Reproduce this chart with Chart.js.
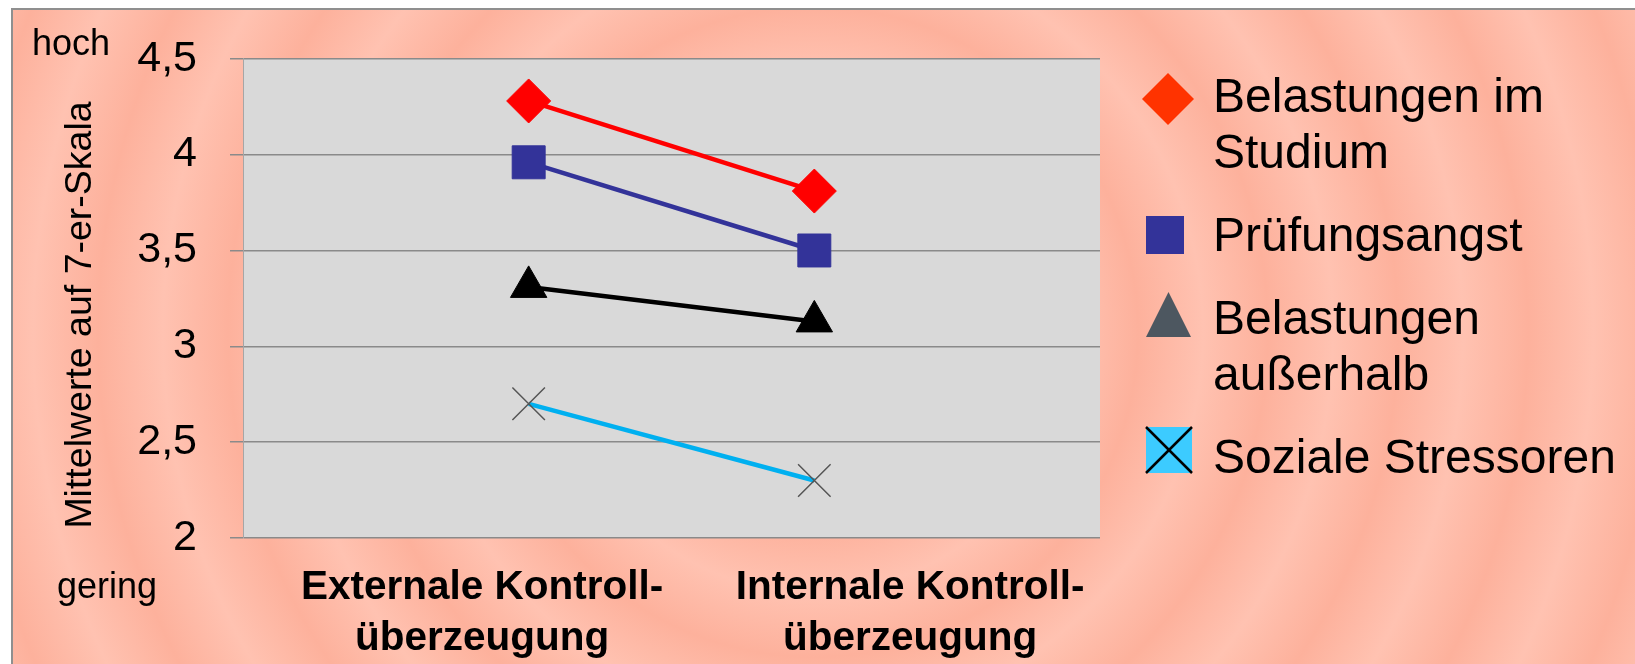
<!DOCTYPE html>
<html lang="de">
<head>
<meta charset="utf-8">
<script src="https://cdn.jsdelivr.net/npm/chart.js@4.4.1/dist/chart.umd.min.js"></script>
<style>
  html, body { margin: 0; padding: 0; }
  body { width: 1635px; height: 664px; background: #fff; position: relative; overflow: hidden;
         font-family: 'Liberation Sans', Arial, sans-serif; }
  #frame { position: absolute; left: 11px; top: 8px; width: 1700px; height: 700px;
           border-top: 2px solid #8f8f8f; border-left: 2px solid #8f8f8f;
           background: repeating-radial-gradient(circle at 800px 322px, #ffc2b1 0px, #fdb19c 65px, #ffc2b1 130px); }
  #chart { position: absolute; left: 0; top: 0; }
  #legend { position: absolute; left: 1146px; top: 68px; }
  .item { display: flex; margin-bottom: 27px; }
  .sym { width: 67px; height: 56px; flex: none; overflow: visible; }
  .txt { width: 430px; font-size: 48px; line-height: 56px; color: #000; }
</style>
</head>
<body>
<div id="frame"></div>
<canvas id="chart" width="1635" height="664"></canvas>
<div id="legend"></div>
<script>
const xLabels = [['Externale Kontroll-', 'überzeugung'], ['Internale Kontroll-', 'überzeugung']];
const seriesNames = ['Belastungen im Studium', 'Prüfungsangst', 'Belastungen außerhalb', 'Soziale Stressoren'];
const studium = [4.28, 3.81];
const pruefung = [3.96, 3.50];
const ausserhalb = [3.31, 3.13];
const sozial = [2.70, 2.30];
const yTicks = [2, 2.5, 3, 3.5, 4, 4.5];
const yTitle = 'Mittelwerte auf 7-er-Skala';

const family = "'Liberation Sans', Arial, sans-serif";

// points sit at x = 1 and 2 on a 0..3 axis, category texts are set a bit outward
const toPoints = vals => vals.map((v, i) => ({ x: i + 1, y: v }));
const labelAt = [0.837, 2.335];

// grey plot area behind the lines
const plotBg = {
    id: 'plotBg',
    beforeDraw(chart) {
        const { ctx, chartArea: a } = chart;
        ctx.save();
        ctx.fillStyle = '#d9d9d9';
        ctx.fillRect(a.left, a.top, a.right - a.left, a.bottom - a.top);
        ctx.restore();
    }
};

// axis title plus the hoch / gering hints
const sideText = {
    id: 'sideText',
    afterDraw(chart) {
        const ctx = chart.ctx;
        ctx.save();
        ctx.fillStyle = '#000';
        ctx.font = '36px ' + family;
        ctx.textAlign = 'left';
        ctx.textBaseline = 'alphabetic';
        ctx.fillText('hoch', 32, 55);
        ctx.fillText('gering', 57, 598);
        ctx.font = '37.5px ' + family;
        ctx.translate(91, 315);
        ctx.rotate(-Math.PI / 2);
        ctx.textAlign = 'center';
        ctx.fillText(yTitle, 0, 0);
        ctx.restore();
    }
};

const chart = new Chart('chart', {
    type: 'line',
    data: {
        datasets: [{
            label: seriesNames[0],
            data: toPoints(studium),
            borderColor: '#ff0000',
            borderWidth: 4.5,
            pointStyle: 'rectRot',
            pointRadius: 22,
            pointBackgroundColor: '#ff0000',
            pointBorderColor: '#ff0000',
            pointBorderWidth: 1
        }, {
            label: seriesNames[1],
            data: toPoints(pruefung),
            borderColor: '#333399',
            borderWidth: 4.5,
            pointStyle: 'rect',
            pointRadius: 23.3,
            pointBackgroundColor: '#333399',
            pointBorderColor: '#333399',
            pointBorderWidth: 1
        }, {
            label: seriesNames[2],
            data: toPoints(ausserhalb),
            borderColor: '#000000',
            borderWidth: 4.5,
            pointStyle: 'triangle',
            pointRadius: 21,
            pointBackgroundColor: '#000000',
            pointBorderColor: '#000000',
            pointBorderWidth: 1
        }, {
            label: seriesNames[3],
            data: toPoints(sozial),
            borderColor: '#00b0f0',
            borderWidth: 4.5,
            pointStyle: 'crossRot',
            pointRadius: 23,
            pointBorderColor: '#555555',
            pointBorderWidth: 1.5
        }]
    },
    options: {
        responsive: false,
        animation: false,
        layout: { padding: { top: 58, right: 535, bottom: 0, left: 0 } },
        plugins: {
            legend: { display: false },
            tooltip: { enabled: false }
        },
        scales: {
            x: {
                type: 'linear',
                min: 0,
                max: 3,
                afterBuildTicks: s => { s.ticks = labelAt.map(v => ({ value: v })); },
                afterFit: s => { s.height = 126; },
                grid: { display: false, drawTicks: false },
                border: { display: false },
                ticks: {
                    autoSkip: false,
                    maxRotation: 0,
                    padding: 25,
                    color: '#000',
                    font: { family: family, size: 40.5, weight: 'bold', lineHeight: 1.25 },
                    callback: (v, i) => xLabels[i]
                }
            },
            y: {
                min: 2,
                max: 4.5,
                afterBuildTicks: s => { s.ticks = yTicks.map(v => ({ value: v })); },
                afterFit: s => { s.width = 243; },
                grid: { color: '#8a8a8a', lineWidth: 1.5, tickLength: 13 },
                border: { display: true, color: '#a6a6a6', width: 1 },
                ticks: {
                    padding: 33,
                    color: '#000',
                    font: { family: family, size: 43 },
                    callback: v => String(v).replace('.', ',')
                }
            }
        }
    },
    plugins: [plotBg, sideText]
});

// legend markers are drawn a little differently from the plot markers
const legendSymbols = [
    '<polygon points="22,5 48,31 22,57 -4,31" fill="#ff3300"/>',
    '<rect x="0" y="9" width="38" height="38" fill="#333399"/>',
    '<polygon points="22.5,2 45,47 0,47" fill="#4d5760"/>',
    '<rect x="0" y="-2" width="46" height="46" fill="#3ccbff"/>' +
    '<line x1="0" y1="-2" x2="46" y2="44" stroke="#000" stroke-width="2.5"/>' +
    '<line x1="46" y1="-2" x2="0" y2="44" stroke="#000" stroke-width="2.5"/>'
];

const legend = document.getElementById('legend');
chart.data.datasets.forEach((ds, i) => {
    const item = document.createElement('div');
    item.className = 'item';
    item.innerHTML = '<svg class="sym" viewBox="0 0 67 56">' + legendSymbols[i] + '</svg>' +
        '<div class="txt">' + ds.label + '</div>';
    legend.appendChild(item);
});
</script>
</body>
</html>
